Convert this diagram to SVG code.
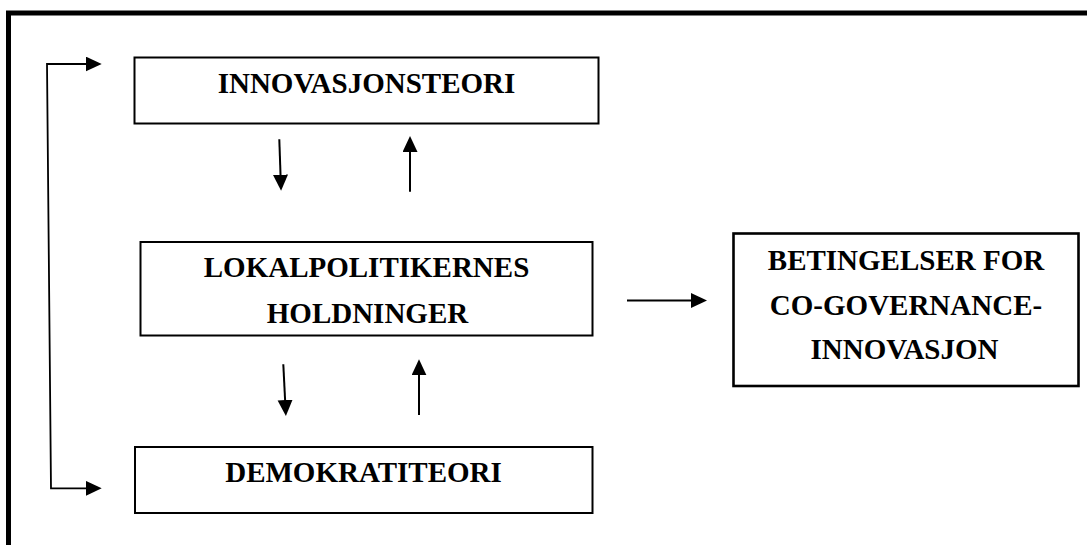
<svg xmlns="http://www.w3.org/2000/svg" width="1087" height="545" viewBox="0 0 1087 545">
  <style>
    .box { fill: #ffffff; stroke: #000000; stroke-width: 2; }
    .box-thick { fill: #ffffff; stroke: #000000; stroke-width: 2.6; }
    .label { font-family: "Liberation Serif", "Times New Roman", serif; font-weight: bold; font-size: 29px; fill: #000000; text-anchor: middle; }
    .link { fill: none; stroke: #000000; stroke-width: 2; marker-end: url(#head); }
    .bracket { fill: none; stroke: #000000; stroke-width: 1.8; marker-start: url(#head); marker-end: url(#head); }
    .frame { fill: none; stroke: #000000; stroke-width: 5; }
  </style>
  <defs>
    <marker id="head" markerUnits="userSpaceOnUse" markerWidth="16" markerHeight="16" refX="8" refY="7.5" orient="auto-start-reverse">
      <path d="M0,0 L16,7.5 L0,15 Z" fill="#000000"/>
    </marker>
  </defs>

  <rect width="1087" height="545" fill="#ffffff"/>

  <!-- outer frame: top and left edges only -->
  <path class="frame" d="M8.5,545 L8.5,13 L1087,13"/>

  <g id="innovasjonsteori">
    <rect class="box" x="134.5" y="57.5" width="464" height="66"/>
    <text class="label" x="366.5" y="92.5">INNOVASJONSTEORI</text>
  </g>

  <g id="lokalpolitikernes-holdninger">
    <rect class="box" x="140.5" y="242" width="452" height="93.5"/>
    <text class="label" x="366.5" y="277">LOKALPOLITIKERNES</text>
    <text class="label" x="367.5" y="323">HOLDNINGER</text>
  </g>

  <g id="demokratiteori">
    <rect class="box" x="135" y="447" width="457.5" height="66"/>
    <text class="label" x="363.5" y="482">DEMOKRATITEORI</text>
  </g>

  <g id="betingelser">
    <rect class="box-thick" x="733.5" y="233.5" width="345" height="152.5"/>
    <text class="label" x="906" y="270">BETINGELSER FOR</text>
    <text class="label" x="906" y="315">CO-GOVERNANCE-</text>
    <text class="label" x="904.5" y="359">INNOVASJON</text>
  </g>

  <g id="connectors">
    <!-- between top box and middle box -->
    <path class="link" d="M279.3,139.3 L280.8,182.7"/>
    <path class="link" d="M410,191.7 L410,144"/>
    <!-- between middle box and bottom box -->
    <path class="link" d="M283.3,364.3 L285.5,408"/>
    <path class="link" d="M419,415 L419,367.3"/>
    <!-- middle box to conditions -->
    <path class="link" d="M627,300.5 L699,300.5"/>
    <!-- left feedback bracket, arrow at each end -->
    <path class="bracket" d="M93.7,64 L47,64 L51,488.3 L93.7,488.3"/>
  </g>
</svg>
